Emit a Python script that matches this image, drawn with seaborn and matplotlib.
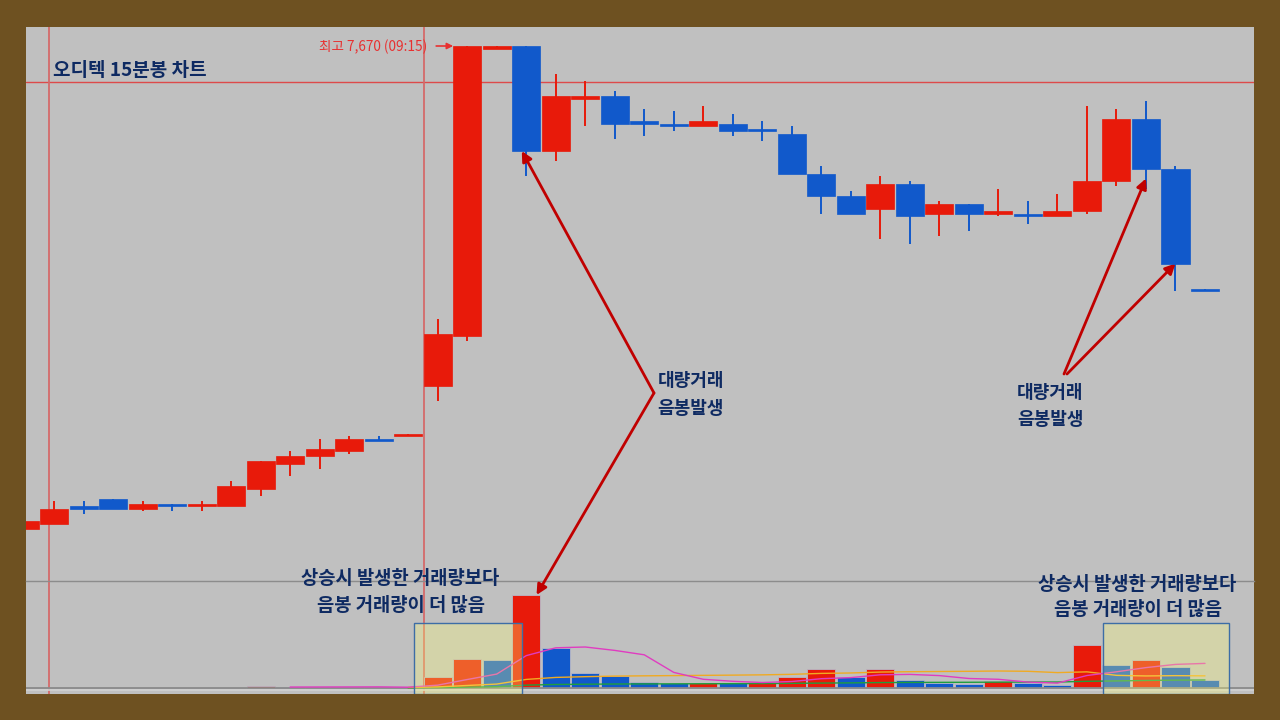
import numpy as np
import pandas as pd
import matplotlib
matplotlib.use('Agg')
import matplotlib.pyplot as plt
import seaborn as sns
from matplotlib.patches import Rectangle

sns.set_theme(style='white')
plt.rcParams['font.family'] = ['Noto Sans CJK KR', 'DejaVu Sans']
plt.rcParams['axes.unicode_minus'] = False

# ---------------- data ----------------
title = '오디텍 15분봉 차트'
high_label = '최고 7,670 (09:15)'
note_big = ['대량거래', '음봉발생']
note_vol = ['상승시 발생한 거래량보다', '음봉 거래량이 더 많음']

opens = [5740, 5760, 5830, 5860, 5820, 5840, 5830, 5830, 5900, 6000, 6030, 6050, 6100, 6110,
         6310, 6510, 7660, 7670, 7250, 7460, 7470, 7370, 7360, 7350, 7360, 7340, 7320, 7160,
         7070, 7020, 7120, 7000, 7040, 7000, 7000, 6990, 7010, 7130, 7380, 7180, 6700]
highs = [5770, 5850, 5850, 5860, 5850, 5840, 5850, 5930, 6010, 6050, 6100, 6110, 6110, 6120,
         6580, 7670, 7670, 7670, 7560, 7530, 7490, 7420, 7410, 7430, 7400, 7370, 7350, 7190,
         7090, 7150, 7130, 7050, 7040, 7100, 7050, 7080, 7430, 7420, 7450, 7190, 6700]
lows = [5740, 5760, 5800, 5820, 5810, 5810, 5810, 5830, 5870, 5950, 5980, 6040, 6090, 6110,
        6250, 6490, 7660, 7150, 7210, 7350, 7300, 7310, 7330, 7350, 7310, 7290, 7160, 7000,
        7000, 6900, 6880, 6910, 6930, 6990, 6960, 6990, 7000, 7110, 7100, 6690, 6690]
closes = [5770, 5820, 5820, 5820, 5840, 5830, 5840, 5910, 6010, 6030, 6060, 6100, 6090, 6120,
          6520, 7670, 7670, 7250, 7470, 7470, 7360, 7360, 7350, 7370, 7330, 7330, 7160, 7070,
          7000, 7120, 6990, 7040, 7000, 7010, 6990, 7010, 7130, 7380, 7180, 6800, 6690]
volumes = [5000, 5000, 5000, 5000, 5000, 5000, 5000, 5000, 25000, 8000, 8000, 8000, 8000, 8000,
           110000, 290000, 280000, 930000, 400000, 150000, 120000, 60000, 50000, 55000, 50000,
           60000, 110000, 190000, 110000, 190000, 80000, 50000, 45000, 70000, 50000, 30000,
           430000, 230000, 280000, 210000, 80000]
ref_level = 7526          # horizontal reference line in price pane
marker_x = [0.83, 13.54]  # vertical cursor lines

# ---------------- style ----------------
RED = '#E81A0A'
BLUE = '#1159CB'
NAVY = '#0E2A62'
BROWN = '#6E5121'
PANE = '#C0C0C0'
ARROW_RED = '#C00000'

W, H = 1280, 720
fig = plt.figure(figsize=(12.8, 7.2), dpi=100, facecolor=BROWN)


def fx(px):
    return px / W


def fy(py):
    return 1 - py / H


ax = fig.add_axes([fx(26), fy(581), fx(1254) - fx(26), fy(27) - fy(581)])
axv = fig.add_axes([fx(26), fy(694), fx(1254) - fx(26), fy(581) - fy(694)])
XL = (0.051, 41.66)

o = np.array(opens, float)
h = np.array(highs, float)
l = np.array(lows, float)
c = np.array(closes, float)
n = len(o)
idx = np.arange(n)
cols = np.where(c >= o, RED, BLUE)

# ---------------- price pane ----------------
ax.set_facecolor(PANE)
ax.axhline(ref_level, color='#DD4A4A', lw=1.0, zorder=1)
for xv in marker_x:
    ax.axvline(xv, color='#D46A6A', lw=1.3, zorder=1)
ax.vlines(idx, l, h, colors=cols, lw=1.4, zorder=3)
ax.bar(idx, c - o, bottom=o, width=0.95, color=cols, edgecolor=cols, linewidth=0.5, zorder=4)
ax.set_xlim(*XL)
ax.set_ylim(5530, 7746)
ax.set_xticks([])
ax.set_yticks([])
for s in ax.spines.values():
    s.set_visible(False)

# highest price label
k = int(np.argmax(h))
ax.annotate('', xy=(k - 0.475, h[k]), xytext=(-17, 0), textcoords='offset pixels',
            arrowprops=dict(arrowstyle='-|>', color='#E83030', lw=1.2, mutation_scale=9,
                            shrinkA=0, shrinkB=0))
ax.annotate(high_label, xy=(k - 0.475, h[k]), xytext=(-26, -1), textcoords='offset pixels',
            ha='right', va='center', fontsize=9.8, color='#E83030')

# ---------------- volume pane ----------------
axv.set_facecolor(PANE)
vdir = ['up' if i > 0 and volumes[i] > volumes[i - 1] else 'down' for i in range(n)]
df = pd.DataFrame({'i': idx, 'vol': volumes, 'dir': vdir})
sns.barplot(data=df, x='i', y='vol', hue='dir', palette={'up': RED, 'down': BLUE},
            dodge=False, width=0.95, saturation=1, errorbar=None, legend=False,
            edgecolor='#B8B8C8', linewidth=0.6, ax=axv, zorder=3)

vol = pd.Series(volumes, dtype=float)
ma5 = vol.rolling(5, min_periods=1).mean()
ma20 = vol.rolling(20, min_periods=1).sum() / 20
ma60 = vol.rolling(60, min_periods=1).sum() / 60
sns.lineplot(x=idx[13:], y=ma60[13:].values, ax=axv, color='#1E9E3C', lw=1.0, zorder=5)
sns.lineplot(x=idx[13:], y=ma20[13:].values, ax=axv, color='#F0AA22', lw=1.0, zorder=5)
sns.lineplot(x=idx[9:], y=ma5[9:].values, ax=axv, color='#E03CC0', lw=1.0, zorder=6)

axv.axhline(0, color='#8A8A8A', lw=1.3, zorder=4)
axv.axhline(-15000, color='#D2D2D2', lw=1.2, zorder=4)
for xv in marker_x:
    axv.axvline(xv, color='#D46A6A', lw=1.3, zorder=2)

axv.set_xlim(*XL)
axv.set_ylim(-60000, 1070000)
axv.set_xticks([])
axv.set_yticks([])
axv.set_xlabel('')
axv.set_ylabel('')
for name, s in axv.spines.items():
    s.set_visible(name == 'top')
axv.spines['top'].set_color('#8C8C8C')
axv.spines['top'].set_linewidth(1.0)

# highlight boxes
for x0, x1 in [(13.2, 16.86), (36.55, 40.82)]:
    axv.add_patch(Rectangle((x0, -55000), x1 - x0, 705000, facecolor=(1.0, 1.0, 0.46, 0.3),
                            edgecolor='#3D6DA6', lw=1.0, zorder=8))

# ---------------- annotations ----------------
ARW = dict(arrowstyle='-|>', color=ARROW_RED, lw=2.0, mutation_scale=15, shrinkA=0, shrinkB=0)
ax.annotate('', xy=(17 - 0.15, c[17]), xytext=(654, H - 393), textcoords='figure pixels',
            arrowprops=ARW)
axv.annotate('', xy=(17 + 0.35, volumes[17]), xytext=(654, H - 393), textcoords='figure pixels',
             arrowprops=ARW, annotation_clip=False)
ax.annotate('', xy=(38, (c[38] + l[38]) / 2), xytext=(1064, H - 374), textcoords='figure pixels',
            arrowprops=ARW)
ax.annotate('', xy=(39, c[39]), xytext=(1067, H - 374), textcoords='figure pixels',
            arrowprops=ARW)

TXT = dict(ha='center', va='center', fontsize=13, fontweight='bold', color=NAVY)
VTXT = dict(TXT, fontsize=13.5)
fig.text(fx(53), fy(70), title, ha='left', va='center', fontsize=13.7, fontweight='bold', color=NAVY)
fig.text(fx(691), fy(381), note_big[0], **TXT)
fig.text(fx(691), fy(408), note_big[1], **TXT)
fig.text(fx(1050), fy(393), note_big[0], **TXT)
fig.text(fx(1050), fy(419), note_big[1], **TXT)
fig.text(fx(400), fy(578), note_vol[0], **VTXT)
fig.text(fx(401), fy(605), note_vol[1], **VTXT)
fig.text(fx(1137), fy(584), note_vol[0], **VTXT)
fig.text(fx(1138), fy(609), note_vol[1], **VTXT)

fig.savefig('out.png', dpi=100, facecolor=fig.get_facecolor())
